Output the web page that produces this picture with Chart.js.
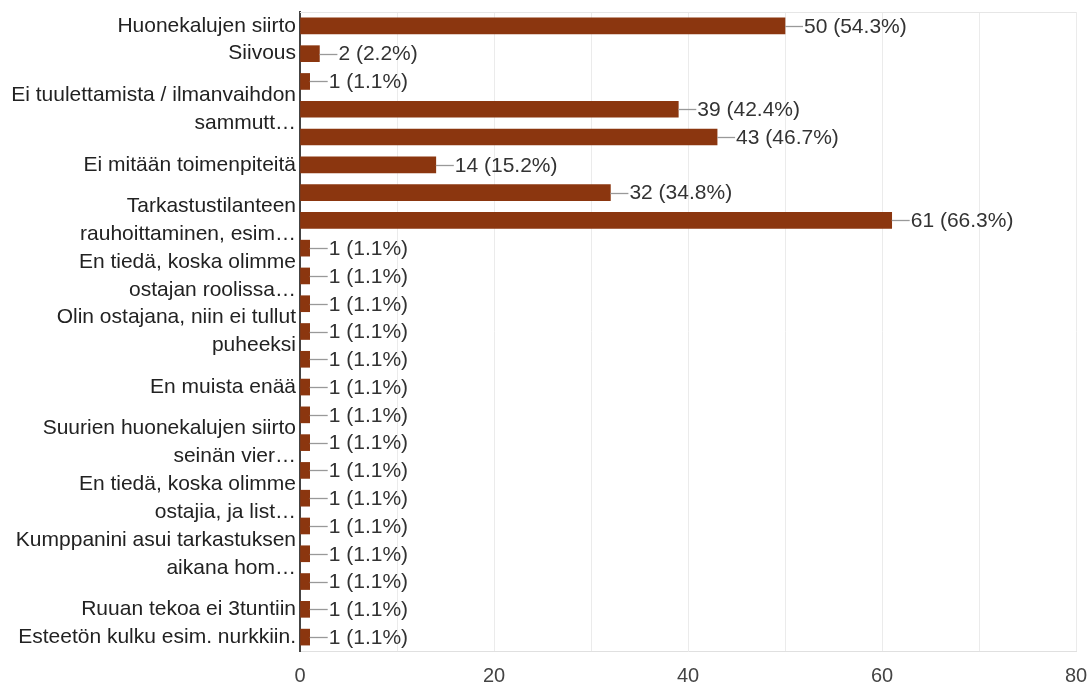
<!DOCTYPE html>
<html>
<head>
<meta charset="utf-8">
<script src="https://cdn.jsdelivr.net/npm/chart.js@4"></script>
<style>
  body { margin: 0; background: #fff; }
  #wrap { width: 1091px; height: 684px; }
</style>
</head>
<body>
<div id="wrap"><canvas id="myChart"></canvas></div>
<script>
// vastausvaihtoehdot (tyhjä = nimiö jätetty pois kuten alkuperäisessä)
var categories = [
    'Huonekalujen siirto', 'Siivous', '',
    ['Ei tuulettamista / ilmanvaihdon', 'sammutt…'], '',
    'Ei mitään toimenpiteitä', '',
    ['Tarkastustilanteen', 'rauhoittaminen, esim…'], '',
    ['En tiedä, koska olimme', 'ostajan roolissa…'], '',
    ['Olin ostajana, niin ei tullut', 'puheeksi'], '',
    'En muista enää', '',
    ['Suurien huonekalujen siirto', 'seinän vier…'], '',
    ['En tiedä, koska olimme', 'ostajia, ja list…'], '',
    ['Kumppanini asui tarkastuksen', 'aikana hom…'], '',
    'Ruuan tekoa ei 3tuntiin', 'Esteetön kulku esim. nurkkiin.'
];
var counts = [50, 2, 1, 39, 43, 14, 32, 61, 1, 1, 1, 1, 1, 1, 1, 1, 1, 1, 1, 1, 1, 1, 1];
var percents = ['54.3', '2.2', '1.1', '42.4', '46.7', '15.2', '34.8', '66.3',
    '1.1', '1.1', '1.1', '1.1', '1.1', '1.1', '1.1', '1.1', '1.1', '1.1', '1.1', '1.1', '1.1', '1.1', '1.1'];
var xTicks = [0, 20, 40, 60, 80];

var fontFam = '"Liberation Sans", Arial, sans-serif';

// arvot palkkien perään viivan kanssa
const valueLabels = {
    id: 'valueLabels',
    afterDatasetsDraw(chart) {
        const c = chart.ctx;
        const area = chart.chartArea;
        c.save();
        // yläreuna
        c.strokeStyle = '#e6e6e6';
        c.lineWidth = 1;
        c.beginPath();
        c.moveTo(area.left, area.top + 0.5);
        c.lineTo(area.right, area.top + 0.5);
        c.stroke();
        const meta = chart.getDatasetMeta(0);
        c.font = '21px ' + fontFam;
        c.textBaseline = 'middle';
        c.textAlign = 'left';
        meta.data.forEach((bar, i) => {
            const y = Math.round(bar.y) + 0.5;
            c.strokeStyle = '#999';
            c.lineWidth = 1.3;
            c.beginPath();
            c.moveTo(bar.x, y);
            c.lineTo(bar.x + 18, y);
            c.stroke();
            c.fillStyle = '#333';
            c.fillText(counts[i] + ' (' + percents[i] + '%)', bar.x + 19, bar.y + 1);
        });
        c.restore();
    }
};

const ctx = document.getElementById('myChart').getContext('2d');
const myChart = new Chart(ctx, {
    type: 'bar',
    data: {
        labels: categories,
        datasets: [{
            data: counts,
            backgroundColor: '#8b360f',
            barThickness: 16
        }]
    },
    options: {
        indexAxis: 'y',
        responsive: true,
        maintainAspectRatio: false,
        animation: false,
        layout: { padding: { top: 12, right: 15, left: 0, bottom: 0 } },
        plugins: {
            legend: { display: false },
            tooltip: { enabled: false }
        },
        scales: {
            x: {
                min: 0,
                max: 80,
                afterFit(scale) {
                    scale.height = 33;
                    scale.paddingLeft = 0;
                    scale.paddingRight = 0;
                },
                afterBuildTicks(scale) {
                    var t = [];
                    for (var v = 0; v <= 80; v += 10) t.push({ value: v });
                    scale.ticks = t;
                },
                ticks: {
                    autoSkip: false,
                    maxRotation: 0,
                    padding: 13,
                    color: '#444',
                    font: { family: fontFam, size: 20 },
                    callback: (v) => xTicks.includes(v) ? v : ''
                },
                grid: { color: '#ebebeb', drawTicks: false },
                border: { color: '#e0e0e0' }
            },
            y: {
                afterFit(scale) {
                    scale.width = 300;
                    scale.paddingTop = 0;
                    scale.paddingBottom = 0;
                },
                ticks: {
                    autoSkip: false,
                    padding: 4,
                    color: '#222',
                    font: { family: fontFam, size: 21, lineHeight: 1.33 }
                },
                grid: { display: false, drawTicks: false },
                border: { color: '#444', width: 2 }
            }
        }
    },
    plugins: [valueLabels]
});
</script>
</body>
</html>
